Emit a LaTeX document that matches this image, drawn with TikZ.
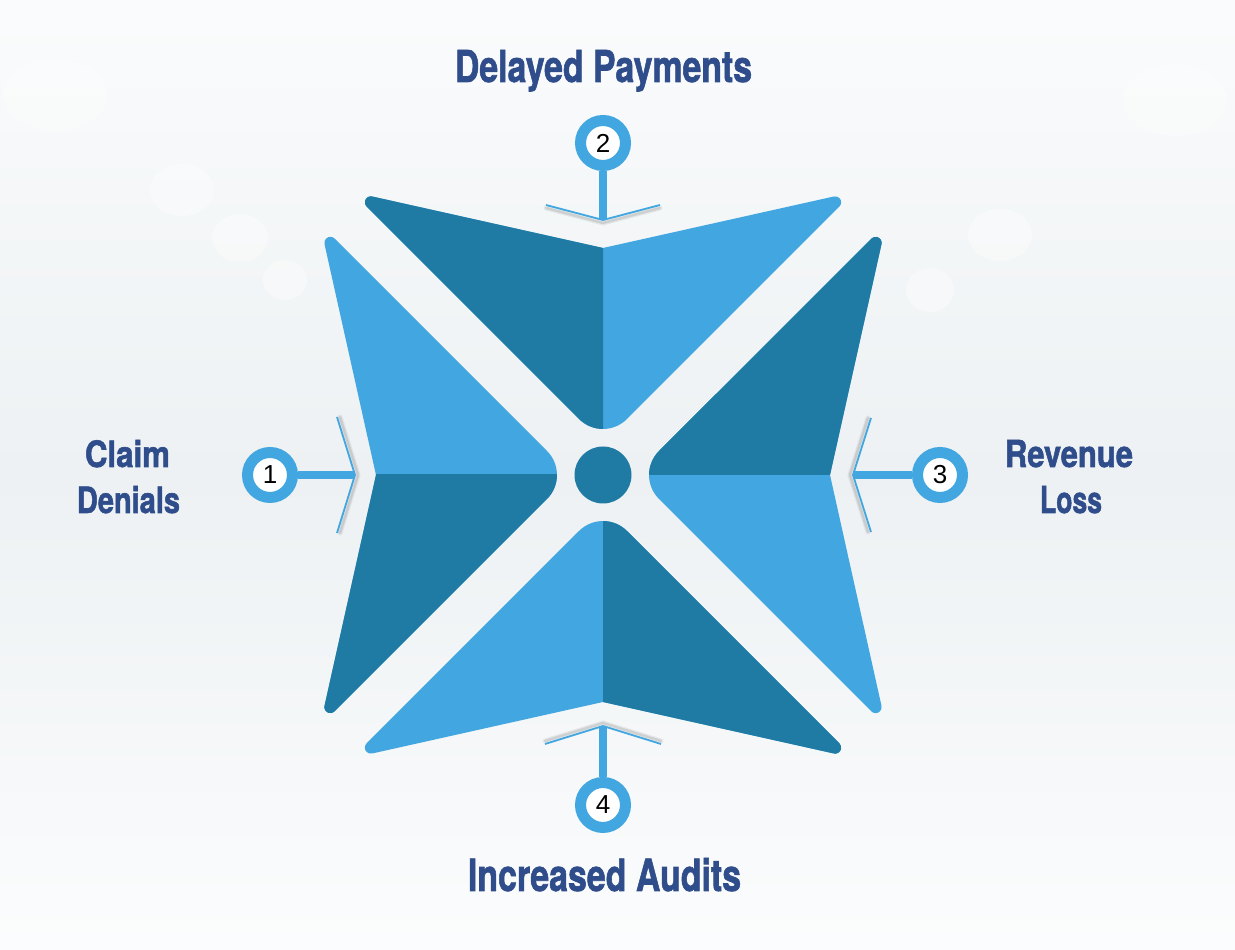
\documentclass[tikz,border=0pt]{standalone}
\usepackage{fontspec}
\setmainfont{TeX Gyre Heros}
\newfontfamily\lblfont{TeX Gyre Heros}[BoldFeatures={FakeBold=1.6}]
\newfontfamily\numfont{Liberation Sans}
\usetikzlibrary{calc}
\definecolor{darkarm}{HTML}{207BA4}
\definecolor{lightarm}{HTML}{42A7E0}
\definecolor{labelblue}{HTML}{2F4C8B}
\definecolor{bgbase}{HTML}{F3F6F8}
\definecolor{bgmid}{HTML}{EDF1F3}
\begin{document}
\begin{tikzpicture}[x=1pt,y=1pt,
  numcircle/.style={circle,draw=lightarm,line width=11pt,fill=white,minimum size=45pt,inner sep=0pt,
    font=\numfont\fontsize{26}{26}\selectfont},
  stemline/.style={draw=lightarm,line width=8pt},
  chevshadow/.style={draw=black,opacity=0.06,line width=5pt,line cap=round},
  chevshadowb/.style={draw=black,opacity=0.10,line width=2.5pt,line cap=round},
  chevline/.style={draw=lightarm,line width=1.8pt},
  lbl/.style={text=labelblue,inner sep=0pt,anchor=base,font=\lblfont\bfseries},
  blob/.style={fill=white,opacity=0.35},
  armpic/.pic={
    \fill[lightarm] (0,227) -- (-230.85,278.5) arc[start angle=77.5,end angle=225,radius=6pt]
      -- (-24,56) .. controls (-10.72,42.72) and (10.72,42.72) .. (24,56)
      -- (236.4,268.4) arc[start angle=-45,end angle=102.5,radius=6pt] -- cycle;
    \begin{scope}
      \clip (-300,0) rectangle (0,300);
      \fill[darkarm] (0,227) -- (-230.85,278.5) arc[start angle=77.5,end angle=225,radius=6pt]
        -- (-24,56) .. controls (-10.72,42.72) and (10.72,42.72) .. (24,56)
        -- (236.4,268.4) arc[start angle=-45,end angle=102.5,radius=6pt] -- cycle;
    \end{scope}
  }
]
\useasboundingbox (0,0) rectangle (1235,950);
% background
\shade[top color=white!60!bgbase,bottom color=white!70!bgbase,middle color=bgmid] (0,0) rectangle (1235,950);
\fill[blob] (55,855) ellipse (52 and 36);
\fill[blob] (182,760) ellipse (32 and 26);
\fill[blob] (240,712) ellipse (28 and 24);
\fill[blob] (285,670) ellipse (22 and 20);
\fill[blob] (1175,850) ellipse (52 and 36);
\fill[blob] (1000,715) ellipse (32 and 26);
\fill[blob] (930,660) ellipse (24 and 22);

% the four arms
\pic at (603,475) {armpic};
\pic[rotate=90] at (603,475) {armpic};
\pic[rotate=180] at (603,475) {armpic};
\pic[rotate=270] at (603,475) {armpic};
\node[circle,fill=darkarm,minimum size=57pt,inner sep=0pt] (hub) at (603,475) {};

% chevron coordinates
\coordinate (t2) at (603,730);
\coordinate (e2a) at (546,745);
\coordinate (e2b) at (660,745);
\coordinate (t4) at (603,224);
\coordinate (e4a) at (545,206);
\coordinate (e4b) at (661,206);
\coordinate (t1) at (355,475);
\coordinate (e1a) at (337,533);
\coordinate (e1b) at (337,417);
\coordinate (t3) at (853,475);
\coordinate (e3a) at (871,532);
\coordinate (e3b) at (871,418);

% chevron shadows
\begin{scope}[transform canvas={yshift=-3pt}]
  \draw[chevshadow] (e2a) -- (t2) -- (e2b);
  \draw[chevshadowb] (e2a) -- (t2) -- (e2b);
\end{scope}
\begin{scope}[transform canvas={yshift=3pt}]
  \draw[chevshadow] (e4a) -- (t4) -- (e4b);
  \draw[chevshadowb] (e4a) -- (t4) -- (e4b);
\end{scope}
\begin{scope}[transform canvas={xshift=3pt}]
  \draw[chevshadow] (e1a) -- (t1) -- (e1b);
  \draw[chevshadowb] (e1a) -- (t1) -- (e1b);
\end{scope}
\begin{scope}[transform canvas={xshift=-3pt}]
  \draw[chevshadow] (e3a) -- (t3) -- (e3b);
  \draw[chevshadowb] (e3a) -- (t3) -- (e3b);
\end{scope}
% chevrons
\draw[chevline] (e2a) -- (t2) -- (e2b);
\draw[chevline] (e4a) -- (t4) -- (e4b);
\draw[chevline] (e1a) -- (t1) -- (e1b);
\draw[chevline] (e3a) -- (t3) -- (e3b);

% number circles
\node[numcircle] (c1) at (270,475) {1};
\node[numcircle] (c2) at (603,807) {2};
\node[numcircle] (c3) at (940,475) {3};
\node[numcircle] (c4) at (603,145) {4};
\draw[stemline] (c1) -- (t1);
\draw[stemline] (c2) -- (t2);
\draw[stemline] (c3) -- (t3);
\draw[stemline] (c4) -- (t4);

% labels
\node[lbl] (lD) at (603.5,868) {\resizebox{297pt}{32pt}{Delayed Payments}};
\node[lbl] (lI) at (604.5,59) {\resizebox{273pt}{33pt}{Increased Audits}};
\node[lbl] (lC1) at (127.5,483) {\resizebox{85pt}{27pt}{Claim}};
\node[lbl] (lC2) at (128.5,437) {\resizebox{103pt}{27pt}{Denials}};
\node[lbl] (lR1) at (1069,483) {\resizebox{128pt}{27pt}{Revenue}};
\node[lbl] (lR2) at (1071,437) {\resizebox{62pt}{27pt}{Loss}};
\end{tikzpicture}
\end{document}
